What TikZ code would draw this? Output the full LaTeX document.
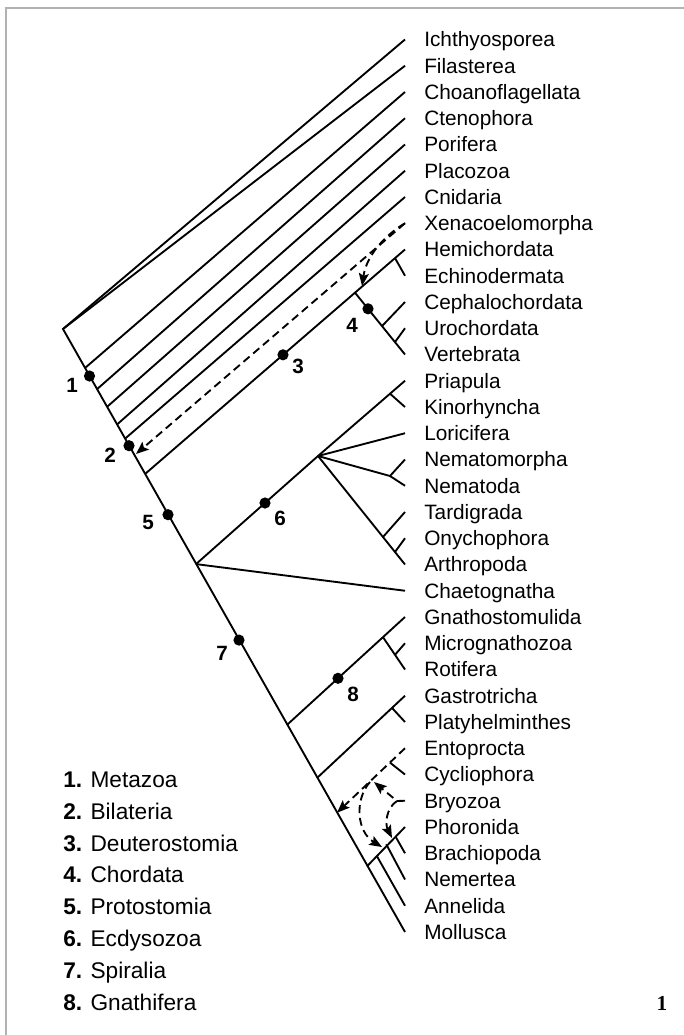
\documentclass[tikz,border=0pt]{standalone}
\usepackage{fontspec}
\setmainfont{Liberation Sans}
\newfontfamily\pgserif{Liberation Serif}
\usetikzlibrary{arrows.meta,calc}
\begin{document}
\begin{tikzpicture}[x=0.75pt,y=-0.75pt,
  br/.style={line width=1.4pt},
  dsh/.style={line width=1.4pt, dash pattern=on 6pt off 3.6pt},
  arr/.style={-{Stealth[length=9.5pt,width=7.5pt,inset=1.8pt]}},
  taxon/.style={anchor=base west, inner sep=0pt, font=\fontsize{15.6}{18}\selectfont},
  num/.style={inner sep=0pt, font=\fontsize{15.5}{18}\selectfont\bfseries},
  legend/.style={anchor=base west, inner sep=0pt, font=\fontsize{17}{20}\selectfont},
  dotnode/.style={circle, fill=black, inner sep=0pt, minimum size=8.4pt},
  frame/.style={draw=black!30, line width=1.5pt}
]
\useasboundingbox (0,0) rectangle (684,1035);
\draw[frame] (6,1035) -- (6,8) -- (684,8);

% taxa
\foreach \n [count=\i from 0] in {Ichthyosporea,Filasterea,Choanoflagellata,Ctenophora,Porifera,Placozoa,Cnidaria,Xenacoelomorpha,Hemichordata,Echinodermata,Cephalochordata,Urochordata,Vertebrata,Priapula,Kinorhyncha,Loricifera,Nematomorpha,Nematoda,Tardigrada,Onychophora,Arthropoda,Chaetognatha,Gnathostomulida,Micrognathozoa,Rotifera,Gastrotricha,Platyhelminthes,Entoprocta,Cycliophora,Bryozoa,Phoronida,Brachiopoda,Nemertea,Annelida,Mollusca}{
  \node[taxon] (l\i) at (424,{39.5+26.25*\i+7.4}) {\n};
  \coordinate (t\i) at (405,{39.5+26.25*\i});
}

% spine and root
\coordinate (root) at (63,329);
\coordinate (s2) at (85,368);
\coordinate (s3) at (97,389.2);
\coordinate (s4) at (107,406.9);
\coordinate (s5) at (117,424.5);
\coordinate (s6) at (125,438.7);
\coordinate (sD) at (145,474);
\coordinate (sP) at (196,564.1);
\coordinate (sG) at (287,724.9);
\coordinate (sR) at (317,778);
\coordinate (sE) at (337,812.7);
\coordinate (sL) at (367,866.3);

\draw[br, line join=miter] (t0) -- (root) -- (t34);
\draw[br] (root) -- (t1);
\draw[br] (s2) -- (t2);
\draw[br] (s3) -- (t3);
\draw[br] (s4) -- (t4);
\draw[br] (s5) -- (t5);
\draw[br] (s6) -- (t6);

% Xenacoelomorpha
\coordinate (x2) at (136,454);
\coordinate (xD) at (362,286);
\draw[dsh,arr] (t7) -- (x2);
\draw[dsh,arr] (t7) .. controls (390,232) and (367,252) .. (xD);

% Deuterostomia
\draw[br] (sD) -- (t8);
\coordinate (aN) at (395,258.1);
\draw[br] (aN) -- (t9);
\coordinate (cN) at (355,292.7);
\draw[br] (cN) -- (t12);
\coordinate (cC) at (382,326.1);
\draw[br] (cC) -- (t10);
\coordinate (cU) at (395,342.1);
\draw[br] (cU) -- (t11);

% Ecdysozoa
\coordinate (eN) at (318,456);
\draw[br] (sP) -- (eN) -- (t13);
\coordinate (kN) at (390,393.7);
\draw[br] (kN) -- (t14);
\draw[br] (eN) -- (t15);
\coordinate (nN) at (390,476);
\draw[br] (eN) -- (nN) -- (t16);
\draw[br] (nN) -- (t17);
\draw[br] (eN) -- (t20);
\coordinate (aT) at (383,537);
\draw[br] (aT) -- (t18);
\coordinate (aO) at (395,552);
\draw[br] (aO) -- (t19);
\draw[br] (sP) -- (t21);

% Gnathifera
\draw[br] (sG) -- (t22);
\coordinate (gN) at (383,637.2);
\draw[br] (gN) -- (t24);
\coordinate (gM) at (395,654.8);
\draw[br] (gM) -- (t23);

% Rouphozoa
\draw[br] (sR) -- (t25);
\coordinate (pN) at (392,707.9);
\draw[br] (pN) -- (t26);

% Entoprocta / Cycliophora
\draw[dsh,arr] (t27) -- (sE);
\coordinate (cyN) at (390,762.6);
\draw[br] (cyN) -- (t28);

% Lophotrochozoa
\draw[br] (sL) -- (t30);
\coordinate (m31) at (395.6,836.7);
\coordinate (m32) at (386.3,844.3);
\coordinate (m33) at (376.9,856.1);
\draw[br] (m31) -- (t31);
\draw[br] (m32) -- (t32);
\draw[br] (m33) -- (t33);

% Bryozoa arrows
\coordinate (bz) at (397,801);
\coordinate (bzU) at (374,782);
\coordinate (bzD) at (392,838);
\coordinate (eC) at (370,782);
\coordinate (lD) at (382,847);
\draw[dsh,arr] (t29) -- (bz) -- (bzU);
\draw[dsh,arr] (bz) .. controls (386,808) and (385,824) .. (bzD);
\draw[dsh,arr] (eC) .. controls (354,800) and (357,832) .. (lD);

% dots
\node[dotnode] (d1) at (89.5,376) {};
\node[dotnode] (d2) at (129,445.7) {};
\node[dotnode] (d3) at (283,354.8) {};
\node[dotnode] (d4) at (368,308.8) {};
\node[dotnode] (d5) at (168,514.7) {};
\node[dotnode] (d6) at (265,503) {};
\node[dotnode] (d7) at (239,640.1) {};
\node[dotnode] (d8) at (338,678.3) {};

% numbers
\node[num] (n1) at (72,385) {1};
\node[num] (n2) at (110,455) {2};
\node[num] (n3) at (298,366) {3};
\node[num] (n4) at (352,325) {4};
\node[num] (n5) at (148,522) {5};
\node[num] (n6) at (280,518) {6};
\node[num] (n7) at (222,653) {7};
\node[num] (n8) at (353,694) {8};

% legend
\foreach \t [count=\k from 0] in {{\textbf{1.} Metazoa},{\textbf{2.} Bilateria},{\textbf{3.} Deuterostomia},{\textbf{4.} Chordata},{\textbf{5.} Protostomia},{\textbf{6.} Ecdysozoa},{\textbf{7.} Spiralia},{\textbf{8.} Gnathifera}}{
  \node[legend] (g\k) at (63,{779+31.9*\k+8.2}) {\t};
}

\node[inner sep=0pt, font=\pgserif\bfseries\fontsize{16}{18}\selectfont] (pg) at (662,1003) {1};
\end{tikzpicture}
\end{document}
